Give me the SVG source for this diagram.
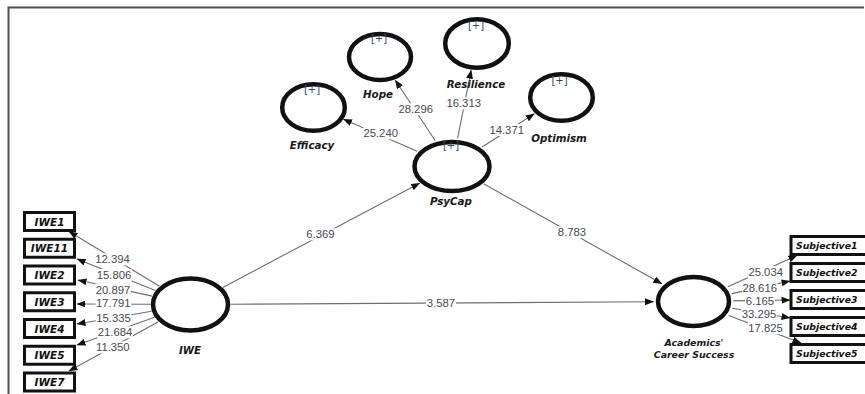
<svg xmlns="http://www.w3.org/2000/svg" width="865" height="394" viewBox="0 0 865 394">
<style>
.lv{fill:none;stroke:#111;stroke-width:4.5}
.bx{fill:#fff;stroke:#111;stroke-width:3}
.nm{font-family:"DejaVu Sans",Verdana,sans-serif;font-weight:bold;font-style:italic;font-size:10.3px;fill:#1a1a1a;text-anchor:middle}
.ind{font-family:"DejaVu Sans",Verdana,sans-serif;font-weight:bold;font-style:italic;font-size:10.5px;fill:#111;text-anchor:middle}
.sub{font-family:"DejaVu Sans",Verdana,sans-serif;font-weight:bold;font-style:italic;font-size:9.3px;fill:#111}
.pl{font-family:"DejaVu Sans",sans-serif;font-size:10px;fill:#2c4a7a;text-anchor:middle}
.cn{stroke:#6e6e6e;stroke-width:1.1;fill:none;marker-end:url(#ah)}
.lb{fill:#fff}
.wt{font-family:"Liberation Sans",Arial,sans-serif;font-size:11.3px;fill:#454a52;text-anchor:middle}
</style>
<defs>
<marker id="ah" markerWidth="9" markerHeight="7" refX="8.5" refY="3.5" orient="auto" markerUnits="userSpaceOnUse">
<path d="M0,0 L9,3.5 L0,7 z" fill="#111"/>
</marker>
</defs>
<rect width="865" height="394" fill="#fff"/>
<path d="M8.5,394 V7.5 H864" fill="none" stroke="#505050" stroke-width="2"/>

<g id="connectors">
<line class="cn" x1="222.8" y1="287.4" x2="419.6" y2="183.2"/>
<line class="cn" x1="483.7" y1="183.8" x2="661.9" y2="283.8"/>
<line class="cn" x1="230.5" y1="304.3" x2="653.5" y2="301.7"/>
<line class="cn" x1="417.2" y1="151.2" x2="343.5" y2="119.3"/>
<line class="cn" x1="435.1" y1="140.5" x2="395.3" y2="80.2"/>
<line class="cn" x1="457.6" y1="138.3" x2="471.2" y2="70.2"/>
<line class="cn" x1="482.1" y1="147" x2="534.3" y2="113.8"/>
<line class="cn" x1="159.5" y1="286.2" x2="69" y2="231.5"/>
<line class="cn" x1="155.5" y1="290.5" x2="77" y2="259"/>
<line class="cn" x1="152.2" y1="296.1" x2="78" y2="280"/>
<line class="cn" x1="150.5" y1="304.3" x2="77" y2="304"/>
<line class="cn" x1="151.6" y1="311.2" x2="77" y2="324"/>
<line class="cn" x1="154.6" y1="317.3" x2="77" y2="345"/>
<line class="cn" x1="158.4" y1="321.8" x2="69" y2="371"/>
<line class="cn" x1="727.9" y1="286.7" x2="797" y2="255.5"/>
<line class="cn" x1="732" y1="293.6" x2="790" y2="281"/>
<line class="cn" x1="733.5" y1="300.9" x2="790" y2="300"/>
<line class="cn" x1="732.4" y1="308.2" x2="790" y2="318"/>
<line class="cn" x1="728.6" y1="315.4" x2="801" y2="343"/>
<rect class="lb" x="305.5" y="228.3" width="30" height="12"/><text class="wt" x="320.5" y="238.3">6.369</text>
<rect class="lb" x="557" y="226.3" width="30" height="12"/><text class="wt" x="572" y="236.3">8.783</text>
<rect class="lb" x="426" y="297.3" width="30" height="12"/><text class="wt" x="441" y="307.3">3.587</text>
<rect class="lb" x="363" y="127.3" width="35.5" height="12"/><text class="wt" x="380.7" y="137.3">25.240</text>
<rect class="lb" x="398" y="103.3" width="35.5" height="12"/><text class="wt" x="415.7" y="113.3">28.296</text>
<rect class="lb" x="446" y="97.3" width="35.5" height="12"/><text class="wt" x="463.7" y="107.3">16.313</text>
<rect class="lb" x="489" y="124" width="35.5" height="12"/><text class="wt" x="506.7" y="134">14.371</text>
<rect class="lb" x="94.8" y="253.3" width="35.5" height="12"/><text class="wt" x="112.5" y="263.3">12.394</text>
<rect class="lb" x="96.3" y="269" width="35.5" height="12"/><text class="wt" x="114" y="279">15.806</text>
<rect class="lb" x="95.3" y="283.5" width="35.5" height="12"/><text class="wt" x="113" y="293.5">20.897</text>
<rect class="lb" x="95.6" y="297.3" width="35.5" height="12"/><text class="wt" x="113.3" y="307.3">17.791</text>
<rect class="lb" x="95.8" y="311.7" width="35.5" height="12"/><text class="wt" x="113.5" y="321.7">15.335</text>
<rect class="lb" x="97.3" y="326.3" width="35.5" height="12"/><text class="wt" x="115" y="336.3">21.684</text>
<rect class="lb" x="95.1" y="341.3" width="35.5" height="12"/><text class="wt" x="112.8" y="351.3">11.350</text>
<rect class="lb" x="748" y="266" width="35.5" height="12"/><text class="wt" x="765.7" y="276">25.034</text>
<rect class="lb" x="742" y="281.7" width="35.5" height="12"/><text class="wt" x="759.7" y="291.7">28.616</text>
<rect class="lb" x="745" y="294.7" width="30" height="12"/><text class="wt" x="760" y="304.7">6.165</text>
<rect class="lb" x="741.3" y="308" width="35.5" height="12"/><text class="wt" x="759" y="318">33.295</text>
<rect class="lb" x="747.8" y="322.3" width="35.5" height="12"/><text class="wt" x="765.5" y="332.3">17.825</text>
</g>

<g id="n-psycap">
<ellipse class="lv" cx="452" cy="166.5" rx="37.5" ry="24.5"/>
<text class="pl" x="451" y="149">[+]</text>
<text class="nm" x="451" y="205">PsyCap</text>
</g>
<g id="n-iwe">
<ellipse class="lv" cx="190.5" cy="304.5" rx="37.5" ry="26"/>
<text class="nm" x="190" y="354">IWE</text>
</g>
<g id="n-acs">
<ellipse class="lv" cx="693.5" cy="301.5" rx="35.5" ry="24.5"/>
<text class="nm" x="694" y="346" style="font-size:9.4px">Academics'</text>
<text class="nm" x="694" y="358" style="font-size:9.4px">Career Success</text>
</g>
<g id="n-efficacy">
<ellipse class="lv" cx="313.5" cy="107.5" rx="31.3" ry="23.3"/>
<text class="pl" x="312" y="93">[+]</text>
<text class="nm" x="312" y="149">Efficacy</text>
</g>
<g id="n-hope">
<ellipse class="lv" cx="380" cy="57" rx="31" ry="23"/>
<text class="pl" x="379" y="42">[+]</text>
<text class="nm" x="378" y="98">Hope</text>
</g>
<g id="n-resilience">
<ellipse class="lv" cx="477" cy="43.5" rx="31.8" ry="24.2"/>
<text class="pl" x="476" y="28.5">[+]</text>
<text class="nm" x="476" y="88">Resilience</text>
</g>
<g id="n-optimism">
<ellipse class="lv" cx="561.5" cy="97.5" rx="31.3" ry="23.3"/>
<text class="pl" x="559.5" y="83.5">[+]</text>
<text class="nm" x="559" y="142">Optimism</text>
</g>

<g id="n-iwe1"><rect class="bx" x="24.5" y="212.5" width="50" height="18"/><text class="ind" x="49.5" y="225.5">IWE1</text></g>
<g id="n-iwe11"><rect class="bx" x="24.5" y="239.25" width="50" height="18"/><text class="ind" x="49.5" y="252.25">IWE11</text></g>
<g id="n-iwe2"><rect class="bx" x="24.5" y="266" width="50" height="18"/><text class="ind" x="49.5" y="279">IWE2</text></g>
<g id="n-iwe3"><rect class="bx" x="24.5" y="292.75" width="50" height="18"/><text class="ind" x="49.5" y="305.75">IWE3</text></g>
<g id="n-iwe4"><rect class="bx" x="24.5" y="319.5" width="50" height="18"/><text class="ind" x="49.5" y="332.5">IWE4</text></g>
<g id="n-iwe5"><rect class="bx" x="24.5" y="346.25" width="50" height="18"/><text class="ind" x="49.5" y="359.25">IWE5</text></g>
<g id="n-iwe7"><rect class="bx" x="24.5" y="373" width="50" height="18"/><text class="ind" x="49.5" y="386">IWE7</text></g>

<g id="n-sub1"><rect class="bx" x="791" y="236.5" width="90" height="18"/><text class="sub" x="796" y="249.3">Subjective1</text></g>
<g id="n-sub2"><rect class="bx" x="791" y="263.5" width="90" height="18"/><text class="sub" x="796" y="276.3">Subjective2</text></g>
<g id="n-sub3"><rect class="bx" x="791" y="290.5" width="90" height="18"/><text class="sub" x="796" y="303.3">Subjective3</text></g>
<g id="n-sub4"><rect class="bx" x="791" y="317.5" width="90" height="18"/><text class="sub" x="796" y="330.3">Subjective4</text></g>
<g id="n-sub5"><rect class="bx" x="791" y="344.5" width="90" height="18"/><text class="sub" x="796" y="357.3">Subjective5</text></g>
</svg>
